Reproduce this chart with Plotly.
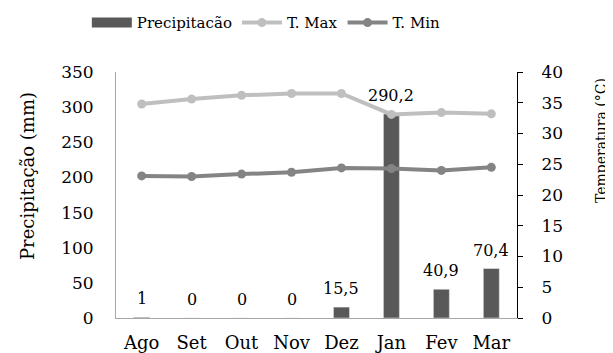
import plotly.graph_objects as go

months = ["Ago", "Set", "Out", "Nov", "Dez", "Jan", "Fev", "Mar"]
precip = [1, 0, 0, 0, 15.5, 290.2, 40.9, 70.4]
t_max = [34.8, 35.6, 36.2, 36.5, 36.5, 33.1, 33.4, 33.2]
t_min = [23.1, 23.0, 23.4, 23.7, 24.4, 24.3, 24.0, 24.5]

FONT = "DejaVu Serif"
BAR_COLOR = "#595959"

def fmt(v):
    s = ("%.1f" % v).rstrip("0").rstrip(".")
    return s.replace(".", ",")

fig = go.Figure()
fig.add_trace(go.Bar(x=months, y=precip, name="Precipitacão", marker_color=BAR_COLOR,
                     width=0.32, yaxis="y", legendgroup="p", showlegend=False))
# legend entry for the bars (wide dark swatch like the reference)
fig.add_trace(go.Scatter(x=[None], y=[None], name="Precipitacão", mode="lines",
                         line=dict(color=BAR_COLOR, width=11), legendgroup="p",
                         hoverinfo="skip", yaxis="y"))
fig.add_trace(go.Scatter(x=months, y=t_max, name="T. Max", mode="lines+markers",
                         line=dict(color="#BFBFBF", width=4), marker=dict(size=9, color="#BFBFBF"),
                         yaxis="y2"))
fig.add_trace(go.Scatter(x=months, y=t_min, name="T. Min", mode="lines+markers",
                         line=dict(color="#848484", width=4), marker=dict(size=9, color="#848484"),
                         yaxis="y2"))

annotations = []
for m, v in zip(months, precip):
    annotations.append(dict(x=m, y=v, xref="x", yref="y", text=fmt(v), showarrow=False,
                            yanchor="bottom", yshift=7, font=dict(family=FONT, size=16, color="black")))
annotations.append(dict(x=-0.222, y=0.577, xref="paper", yref="paper", text="Precipitação (mm)",
                        textangle=-90, showarrow=False, xanchor="center", yanchor="middle",
                        font=dict(family=FONT, size=18, color="black")))
annotations.append(dict(x=1.2095, y=0.7195, xref="paper", yref="paper", text="Temperatura (°C)",
                        textangle=-90, showarrow=False, xanchor="center", yanchor="middle",
                        font=dict(family=FONT, size=14, color="black")))

fig.update_layout(
    width=605, height=345,
    margin=dict(l=108, r=96, t=64, b=35, autoexpand=False),
    paper_bgcolor="white", plot_bgcolor="white",
    font=dict(family=FONT, size=17, color="black"),
    bargap=0.68,
    showlegend=True,
    legend=dict(orientation="h", x=0.427, xanchor="center", xref="container",
                y=0.957, yanchor="middle", yref="container",
                font=dict(family=FONT, size=15, color="black"), bgcolor="rgba(0,0,0,0)",
                itemwidth=40),
    xaxis=dict(showline=True, linecolor="#A6A6A6", linewidth=1, showgrid=False, ticks="",
               ticklabelstandoff=8, tickfont=dict(family=FONT, size=18)),
    yaxis=dict(range=[0, 350], dtick=50, showline=True, linecolor="#A6A6A6", linewidth=1,
               showgrid=False, zeroline=False, ticks="", ticklabelstandoff=18,
               tickfont=dict(family=FONT, size=17)),
    yaxis2=dict(range=[0, 40], dtick=5, overlaying="y", side="right", showline=True,
                linecolor="black", linewidth=1, showgrid=False, zeroline=False,
                ticks="outside", ticklen=5, tickcolor="black", ticklabelstandoff=15,
                tickfont=dict(family=FONT, size=17)),
    annotations=annotations,
)

fig.write_html("out.html")
